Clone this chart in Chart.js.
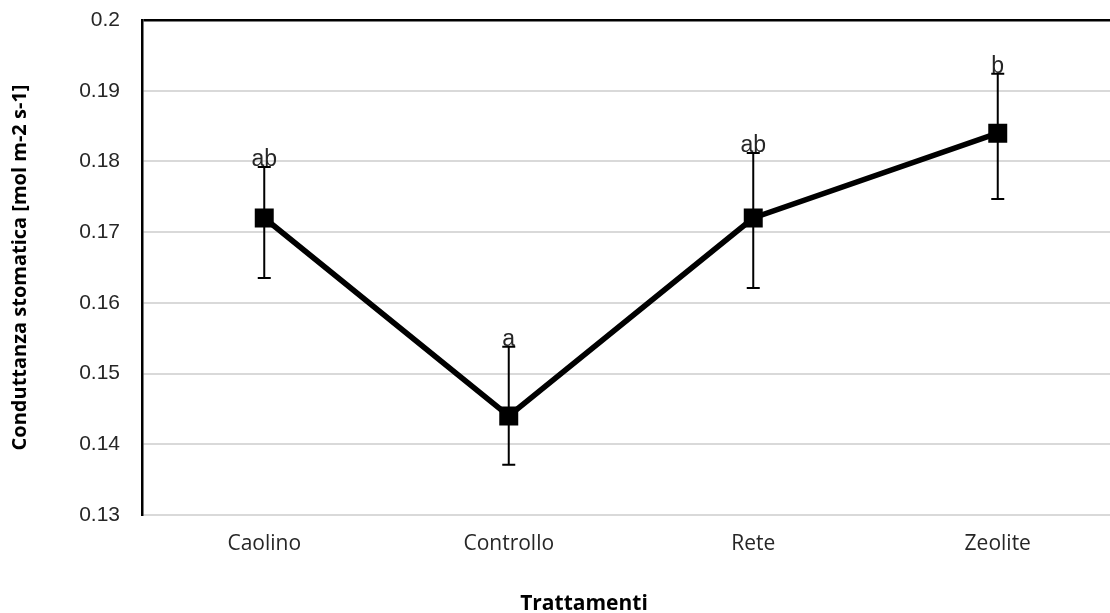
<!DOCTYPE html>
<html>
<head>
<meta charset="utf-8">
<script src="https://cdn.jsdelivr.net/npm/chart.js@4/dist/chart.umd.min.js"></script>
<style>
html,body{margin:0;padding:0;background:#fff;overflow:hidden;}
#wrap{width:1134px;height:613px;position:relative;}
canvas{display:block;}
</style>
</head>
<body>
<div id="wrap"><canvas id="c" width="1134" height="613" style="width:1134px;height:613px;"></canvas></div>
<script>
const categories = ['Caolino', 'Controllo', 'Rete', 'Zeolite'];
const means = [0.172, 0.144, 0.172, 0.184];
const errHigh = [0.1792, 0.1538, 0.1812, 0.1924];
const errLow = [0.1635, 0.1371, 0.1621, 0.1747];
const letters = ['ab', 'a', 'ab', 'b'];
const yTickLabels = ['0.13', '0.14', '0.15', '0.16', '0.17', '0.18', '0.19', '0.2'];
const xTitle = 'Trattamenti';

const errorBars = {
  id: 'errorBars',
  afterDatasetsDraw(chart) {
    const ctx = chart.ctx;
    const xs = chart.scales.x, ys = chart.scales.y;
    ctx.save();
    ctx.strokeStyle = '#000';
    ctx.lineWidth = 2;
    categories.forEach((c, i) => {
      const x = xs.getPixelForValue(i);
      const yt = ys.getPixelForValue(errHigh[i]);
      const yb = ys.getPixelForValue(errLow[i]);
      ctx.beginPath();
      ctx.moveTo(x, yt); ctx.lineTo(x, yb);
      ctx.moveTo(x - 6.5, yt); ctx.lineTo(x + 6.5, yt);
      ctx.moveTo(x - 6.5, yb); ctx.lineTo(x + 6.5, yb);
      ctx.stroke();
      ctx.fillStyle = '#262626';
      ctx.font = '23px "Liberation Sans", Arial, sans-serif';
      ctx.textAlign = 'center';
      ctx.textBaseline = 'alphabetic';
      ctx.fillText(letters[i], x, yt - 1);
    });
    ctx.restore();
  },
  afterDraw(chart) {
    const ctx = chart.ctx;
    ctx.save();
    ctx.fillStyle = '#000';
    ctx.font = 'bold 21px "Open Sans", sans-serif';
    ctx.textAlign = 'center';
    ctx.textBaseline = 'middle';
    ctx.fillText(xTitle, 584, 604);
    ctx.restore();
  }
};

new Chart(document.getElementById('c'), {
  type: 'line',
  data: {
    labels: categories,
    datasets: [{
      data: means,
      borderColor: '#000',
      backgroundColor: '#000',
      borderWidth: 5.5,
      pointStyle: 'rect',
      pointRadius: 12,
      pointBorderWidth: 2,
      pointBackgroundColor: '#000',
      pointBorderColor: '#000',
      tension: 0
    }]
  },
  options: {
    responsive: false,
    animation: false,
    layout: { padding: { left: 0, right: 2, top: 20, bottom: 0 } },
    plugins: {
      legend: { display: false },
      tooltip: { enabled: false }
    },
    scales: {
      x: {
        offset: true,
        grid: { display: false, drawTicks: false },
        border: { display: false },
        ticks: {
          color: '#262626',
          font: { family: '"Open Sans", sans-serif', size: 21 },
          padding: 16,
          maxRotation: 0
        },
        afterFit(scale) {
          scale.height = 613 - 515;
          scale.paddingLeft = 0;
          scale.paddingRight = 0;
        }
      },
      y: {
        min: 0.13,
        max: 0.2,
        ticks: {
          stepSize: 0.01,
          color: '#262626',
          font: { family: '"Liberation Sans", Arial, sans-serif', size: 21 },
          padding: 22,
          callback: (v) => {
            const idx = Math.round((v - 0.13) / 0.01);
            return yTickLabels[idx];
          }
        },
        grid: {
          drawTicks: false,
          color: (ctx) => (ctx.tick && Math.abs(ctx.tick.value - 0.2) < 1e-9) ? '#000' : '#d9d9d9',
          lineWidth: (ctx) => (ctx.tick && Math.abs(ctx.tick.value - 0.2) < 1e-9) ? 2.5 : 2
        },
        border: { display: true, color: '#000', width: 2.5 },
        title: {
          display: true,
          text: 'Conduttanza stomatica [mol m-2 s-1]',
          color: '#000',
          font: { family: '"Open Sans", sans-serif', size: 20, weight: 'bold' },
          padding: { top: 8, bottom: 0 }
        },
        afterFit(scale) {
          scale.width = 142;
          scale.paddingTop = 0;
          scale.paddingBottom = 0;
        }
      }
    }
  },
  plugins: [errorBars]
});
</script>
</body>
</html>
